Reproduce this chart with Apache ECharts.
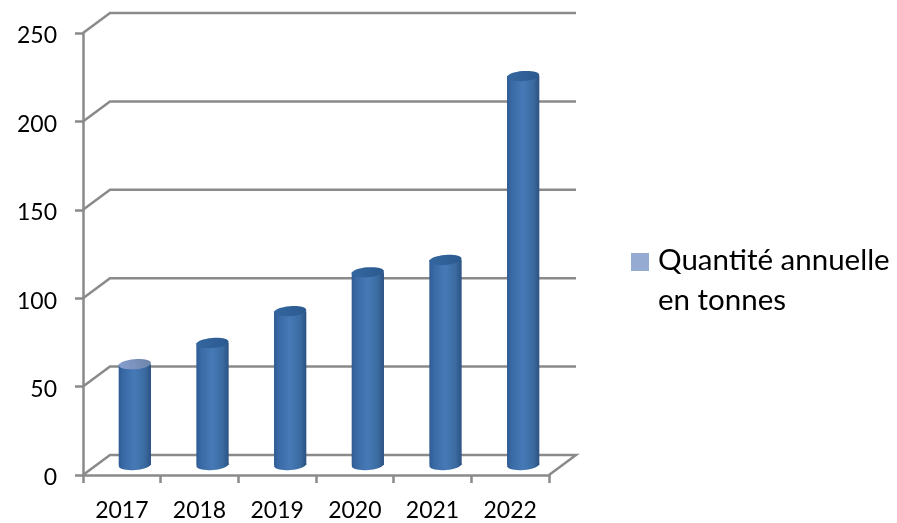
<!DOCTYPE html>
<html>
<head>
<meta charset="utf-8">
<style>
html, body { margin: 0; padding: 0; background: #fff; }
#chart { width: 897px; height: 523px; }
</style>
<script src="https://cdn.jsdelivr.net/npm/echarts@6/dist/echarts.min.js"></script>
</head>
<body>
<div id="chart"></div>
<script>
var years = ['2017', '2018', '2019', '2020', '2021', '2022'];
var quantities = [57, 69, 87, 109, 116, 220];
var tickValues = [0, 50, 100, 150, 200, 250];
var seriesName = 'Quantité annuelle en tonnes';

var lineColor = '#8a8a8a';
var depthX = 27, depthY = 20; // decalage du fond (pseudo 3D)
var font = 'Lato';

function renderWall(params, api) {
	var v = api.value(1);
	var sys = params.coordSys;
	var y = api.coord([0, v])[1];
	var pts = [
		[sys.x, y],
		[sys.x + depthX, y - depthY],
		[sys.x + sys.width + depthX, y - depthY]
	];
	if (v === 0) pts.push([sys.x + sys.width, y]);
	return {
		type: 'polyline',
		shape: { points: pts },
		style: { stroke: lineColor, lineWidth: 2.5, fill: null }
	};
}

function renderBar(params, api) {
	var top = api.coord([api.value(0), api.value(1)]);
	var base = api.coord([api.value(0), 0]);
	var band = api.size([1, 0])[0];
	var rx = band * 0.208;
	var ry = 5;
	var cx = top[0] + depthX / 2 - 0.5;
	var yTop = top[1] - depthY / 2;
	var yBase = base[1] - depthY / 2;
	var bodyFill = new echarts.graphic.LinearGradient(0, 0, 1, 0, [
		{ offset: 0, color: '#2f5b93' },
		{ offset: 0.15, color: '#3a6aa6' },
		{ offset: 0.5, color: '#467ab7' },
		{ offset: 0.82, color: '#3a6a9f' },
		{ offset: 1, color: '#2c5282' }
	]);
	// le premier cylindre a un dessus plus clair dans l'original
	var capFill = params.dataIndex === 0
		? new echarts.graphic.LinearGradient(0, 1, 1, 0, [
			{ offset: 0, color: '#86a0cf' },
			{ offset: 1, color: '#6d83a8' }
		])
		: new echarts.graphic.LinearGradient(0, 0, 1, 0, [
			{ offset: 0, color: '#34669f' },
			{ offset: 1, color: '#2b5a8f' }
		]);
	return {
		type: 'group',
		children: [
			{
				type: 'ellipse',
				shape: { cx: cx, cy: yBase, rx: rx, ry: ry },
				rotation: 0.08, originX: cx, originY: yBase,
				style: { fill: bodyFill }
			},
			{
				type: 'rect',
				shape: { x: cx - rx, y: yTop, width: rx * 2, height: yBase - yTop },
				style: { fill: bodyFill }
			},
			{
				type: 'ellipse',
				shape: { cx: cx, cy: yTop, rx: rx, ry: ry },
				rotation: 0.08, originX: cx, originY: yTop,
				style: { fill: capFill }
			}
		]
	};
}

var myChart = echarts.init(document.getElementById('chart'));
myChart.setOption({
	animation: false,
	backgroundColor: '#fff',
	grid: { left: 83, right: 348, top: 33, bottom: 48 },
	legend: {
		data: [seriesName],
		left: 626,
		top: 235,
		orient: 'vertical',
		// carre aligne sur la premiere ligne du texte
		icon: 'path://M0 0L0 0ZM0 13H18V31H0ZM18 80L18 80Z',
		itemWidth: 18,
		itemHeight: 80,
		itemGap: 0,
		formatter: function() { return 'Quantité annuelle\nen tonnes'; },
		textStyle: { fontFamily: font, fontSize: 29.5, lineHeight: 40, color: '#000', padding: [0, 0, 0, 4] }
	},
	xAxis: {
		type: 'category',
		data: years,
		boundaryGap: true,
		axisLine: { lineStyle: { color: lineColor, width: 2.5 } },
		axisTick: { show: true, length: 8, lineStyle: { color: lineColor, width: 2.5 } },
		axisLabel: { color: '#000', fontFamily: font, fontSize: 23, margin: 24 }
	},
	yAxis: {
		type: 'value',
		min: 0,
		max: 250,
		interval: 50,
		splitLine: { show: false },
		axisLine: { show: true, lineStyle: { color: lineColor, width: 2.5 } },
		axisTick: { show: true, length: 8, lineStyle: { color: lineColor, width: 2.5 } },
		axisLabel: { color: '#000', fontFamily: font, fontSize: 23, margin: 26, verticalAlign: 'top', lineHeight: 6 }
	},
	series: [
		{
			type: 'custom',
			name: 'walls',
			silent: true,
			renderItem: renderWall,
			data: tickValues.map(function(v) { return [0, v]; }),
			encode: { x: 0, y: 1 },
			z: 1
		},
		{
			type: 'custom',
			name: seriesName,
			renderItem: renderBar,
			itemStyle: { color: '#95abd2' },
			data: quantities.map(function(v, i) { return [i, v]; }),
			encode: { x: 0, y: 1 },
			z: 2
		}
	]
});
</script>
</body>
</html>
